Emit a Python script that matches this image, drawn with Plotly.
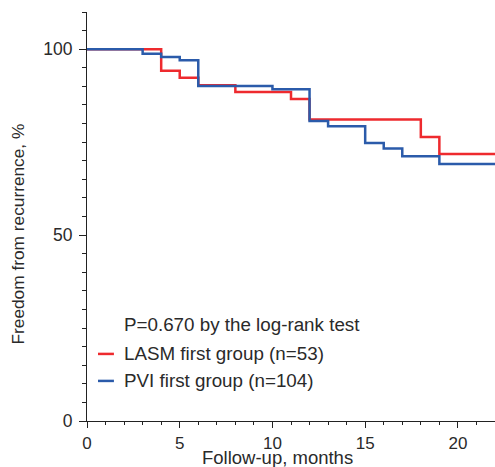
import plotly.graph_objects as go

# Kaplan-Meier step data (month, freedom from recurrence %)
lasm_months = [0, 4, 5, 6, 8, 11, 12, 18, 19, 22]
lasm_values = [100, 94.2, 92.3, 90.3, 88.5, 86.6, 81.1, 76.4, 71.8, 71.8]

pvi_months = [0, 3, 4, 5, 6, 10, 12, 13, 15, 16, 17, 19, 22]
pvi_values = [100, 98.8, 97.9, 97.0, 90.1, 89.2, 80.7, 79.3, 74.8, 73.3, 71.2, 69.1, 69.1]

x_ticks = [0, 5, 10, 15, 20]
y_ticks = [0, 50, 100]

RED = "#EE2A2E"
BLUE = "#2B5BAA"
TXT = "#2a2a2a"
FONT = "Liberation Sans, Arial, sans-serif"

fig = go.Figure()
fig.add_trace(go.Scatter(x=lasm_months, y=lasm_values, mode="lines",
                         line=dict(color=RED, width=2.5, shape="hv"),
                         name="LASM first group (n=53)", showlegend=False))
fig.add_trace(go.Scatter(x=pvi_months, y=pvi_values, mode="lines",
                         line=dict(color=BLUE, width=2.5, shape="hv"),
                         name="PVI first group (n=104)", showlegend=False))

# legend built from annotations + short line shapes
legend_items = [("LASM first group (n=53)", RED, 0.164), ("PVI first group (n=104)", BLUE, 0.098)]
fig.add_annotation(x=0.086, y=0.235, xref="paper", yref="paper", xanchor="left", yanchor="middle",
                   text="P=0.670 by the log-rank test", showarrow=False,
                   font=dict(family=FONT, size=18.8, color=TXT))
for label, col, yy in legend_items:
    fig.add_shape(type="line", xref="paper", yref="paper", x0=0.027, x1=0.066, y0=yy, y1=yy,
                  line=dict(color=col, width=2.5))
    fig.add_annotation(x=0.086, y=yy, xref="paper", yref="paper", xanchor="left", yanchor="middle",
                       text=label, showarrow=False, font=dict(family=FONT, size=18.8, color=TXT))

# axis titles
fig.add_annotation(x=0.466, y=-0.089, xref="paper", yref="paper", xanchor="center", yanchor="middle",
                   text="Follow-up, months", showarrow=False,
                   font=dict(family=FONT, size=18.5, color=TXT))
fig.add_annotation(x=-0.168, y=0.457, xref="paper", yref="paper", xanchor="center", yanchor="middle",
                   text="Freedom from recurrence, %", textangle=-90, showarrow=False,
                   font=dict(family=FONT, size=17.3, color=TXT))

fig.update_layout(
    width=495, height=467,
    margin=dict(l=87, r=0, t=12, b=46),
    plot_bgcolor="white", paper_bgcolor="white",
    font=dict(family=FONT, size=18, color=TXT),
    showlegend=False,
)
fig.update_xaxes(range=[0, 22], tickvals=x_ticks, ticks="outside", ticklen=6, tickwidth=1.2,
                 tickcolor="#222", showline=True, linecolor="#222", linewidth=1.2,
                 showgrid=False, zeroline=False, automargin=False, tickfont=dict(size=17),
                 minor=dict(dtick=1, ticks="outside", ticklen=3, tickcolor="#222", tickwidth=1))
fig.update_yaxes(range=[0, 110], tickvals=y_ticks, ticks="outside", ticklen=7, tickwidth=1.2,
                 tickcolor="#222", showline=True, linecolor="#222", linewidth=1.2,
                 showgrid=False, zeroline=False, automargin=False, ticklabelstandoff=3,
                 tickfont=dict(size=17.5),
                 minor=dict(dtick=5, ticks="outside", ticklen=4, tickcolor="#222", tickwidth=1))

fig.write_html("out.html", config={"displayModeBar": False},
               post_script="document.body.style.margin='0';document.body.style.overflow='hidden';")
